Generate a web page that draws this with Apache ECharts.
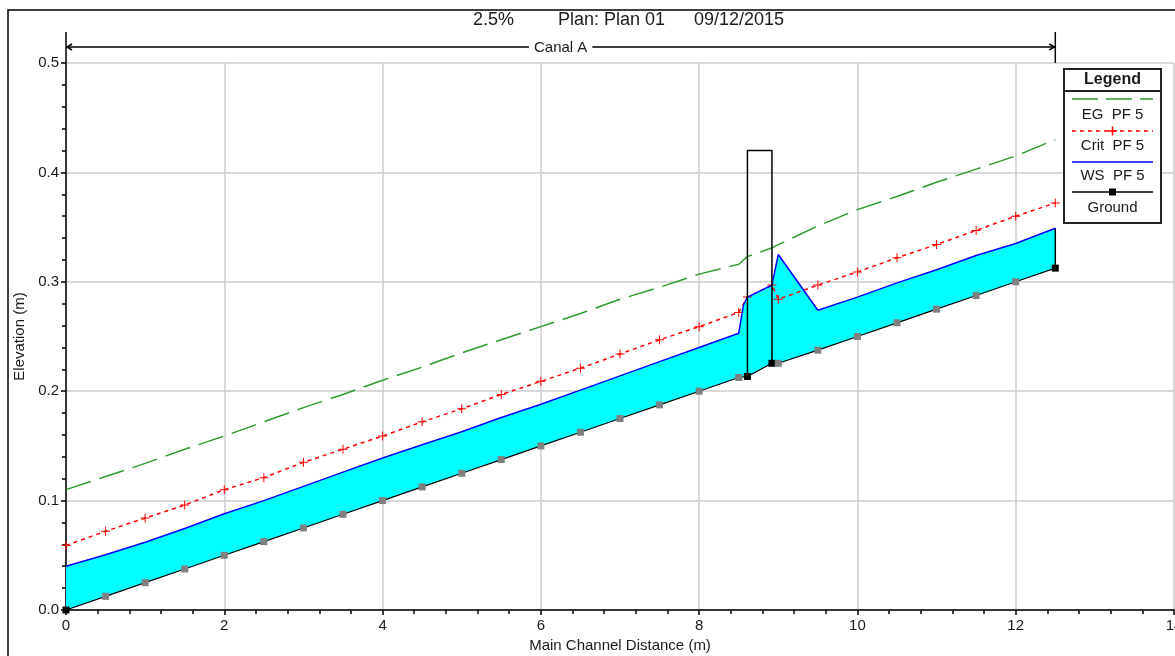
<!DOCTYPE html>
<html>
<head>
<meta charset="utf-8">
<title>Canal A profile</title>
<script src="https://cdn.jsdelivr.net/npm/echarts@6/dist/echarts.min.js"></script>
<style>
  html, body { margin: 0; padding: 0; background: #ffffff; }
  #chart { width: 1175px; height: 656px; }
</style>
</head>
<body>
<div id="chart"></div>
<script>
// ---- Profile data: main channel distance (m) and elevations (m) ----
const stations = [0, 0.5, 1, 1.5, 2, 2.5, 3, 3.5, 4, 4.5, 5, 5.5, 6, 6.5, 7, 7.5, 8, 8.5,
                  8.61, 8.92, 9, 9.5, 10, 10.5, 11, 11.5, 12, 12.5];
const groundElev = [0, 0.0125, 0.025, 0.0375, 0.05, 0.0625, 0.075, 0.0875, 0.1, 0.1125, 0.125,
                    0.1375, 0.15, 0.1625, 0.175, 0.1875, 0.2, 0.2125, 0.2135, 0.2255, 0.2255,
                    0.2375, 0.25, 0.2625, 0.275, 0.2875, 0.3, 0.3125];
const critElev = [0.059, 0.072, 0.084, 0.096, 0.110, 0.121, 0.135, 0.147, 0.159, 0.172, 0.184,
                  0.197, 0.209, 0.221, 0.234, 0.247, 0.259, 0.272, 0.286, 0.297, 0.284, 0.297,
                  0.309, 0.322, 0.334, 0.347, 0.360, 0.372];
const egElev = [0.110, 0.122, 0.134, 0.147, 0.159, 0.172, 0.185, 0.197, 0.210, 0.222, 0.235,
                0.247, 0.259, 0.271, 0.284, 0.295, 0.307, 0.316, 0.323, 0.331, 0.334, 0.351,
                0.366, 0.378, 0.391, 0.403, 0.415, 0.430];
const wsStations = [0, 0.5, 1, 1.5, 2, 2.5, 3, 3.5, 4, 4.5, 5, 5.5, 6, 6.5, 7, 7.5, 8, 8.5,
                    8.56, 8.61, 8.92, 9, 9.5, 10, 10.5, 11, 11.5, 12, 12.5];
const wsElev = [0.040, 0.0505, 0.062, 0.0745, 0.088, 0.100, 0.113, 0.126, 0.139, 0.151, 0.163,
                0.176, 0.188, 0.201, 0.214, 0.227, 0.240, 0.253, 0.279, 0.286, 0.297, 0.325,
                0.274, 0.286, 0.299, 0.311, 0.324, 0.335, 0.349];

// Bridge opening (faces and deck elevation)
const bridgeStations = [8.61, 8.92];
const bridgeDeckElev = 0.42;

// Text
const headerParts = ['2.5%', 'Plan: Plan 01', '09/12/2015'];
const reachName = 'Canal A';
const seriesNames = ['EG  PF 5', 'Crit  PF 5', 'WS  PF 5', 'Ground'];
const xAxisTitle = 'Main Channel Distance (m)';
const yAxisTitle = 'Elevation (m)';

// ---- Styling ----
const FONT = '"Liberation Sans", Arial, Helvetica, sans-serif';
const TXT = '#1a1a1a';
const C_EG = '#2e9a2e';
const C_CRIT = '#ff0000';
const C_WS = '#0000ff';
const C_FILL = '#00ffff';
const PLUS = 'path://M4,0H5V9H4ZM0,4H9V5H0Z';

const chart = echarts.init(document.getElementById('chart'), null, { renderer: 'canvas' });

const groundAt = x => groundElev[stations.indexOf(x)];
const keyStation = x => x === stations[0] || x === stations[stations.length - 1] ||
                        bridgeStations.indexOf(x) >= 0;

const axisCommon = {
  axisLine: { show: true, onZero: false, lineStyle: { color: '#000', width: 1.5 } },
  axisTick: { show: true, inside: false, length: 5, lineStyle: { color: '#000', width: 1.5 } },
  minorTick: { show: true, splitNumber: 5, length: 4, lineStyle: { color: '#000', width: 1.5 } },
  splitLine: { show: true, lineStyle: { color: '#cccccc', width: 1.5 } },
  minorSplitLine: { show: false },
  nameLocation: 'middle',
  nameTextStyle: { fontFamily: FONT, fontSize: 15, color: TXT }
};

chart.setOption({
  animation: false,
  backgroundColor: '#ffffff',
  grid: { left: 66, right: 1, top: 63, bottom: 46, containLabel: false, outerBoundsMode: 'none' },
  xAxis: Object.assign({}, axisCommon, {
    type: 'value', min: 0, max: 14, interval: 2,
    name: xAxisTitle, nameGap: 26,
    axisLabel: { fontFamily: FONT, fontSize: 15, color: TXT, margin: 8,
                 formatter: v => String(Math.round(v)) }
  }),
  yAxis: Object.assign({}, axisCommon, {
    type: 'value', min: 0, max: 0.5, interval: 0.1,
    name: yAxisTitle, nameGap: 38, nameRotate: 90,
    axisLabel: { fontFamily: FONT, fontSize: 15, color: TXT, margin: 7,
                 formatter: v => v.toFixed(1) }
  }),
  series: [
    {
      // water between ground and water surface
      type: 'custom', name: 'flow area', silent: true, z: 1,
      data: [[0, 0]],
      renderItem: function (params, api) {
        const top = wsStations.map((x, i) => api.coord([x, wsElev[i]]));
        const bottom = stations.map((x, i) => api.coord([x, groundElev[i]])).reverse();
        const lastTop = top[top.length - 1];
        const lastBottom = bottom[0];
        return {
          type: 'group',
          children: [
            { type: 'polygon', shape: { points: top.concat(bottom) },
              style: { fill: C_FILL, stroke: null } },
            { type: 'line', shape: { x1: lastTop[0], y1: lastTop[1], x2: lastBottom[0], y2: lastBottom[1] },
              style: { stroke: '#000', lineWidth: 1.5 } }
          ]
        };
      }
    },
    {
      name: seriesNames[0], type: 'line', z: 3,
      data: stations.map((x, i) => [x, egElev[i]]),
      showSymbol: false, symbol: 'none',
      lineStyle: { color: C_EG, width: 1.5, type: [26, 9] }
    },
    {
      name: seriesNames[1], type: 'line', z: 4,
      data: stations.map((x, i) => [x, critElev[i]]),
      symbol: PLUS, symbolSize: 9, showSymbol: true,
      itemStyle: { color: C_CRIT },
      lineStyle: { color: C_CRIT, width: 1.5, type: [4, 4] }
    },
    {
      name: seriesNames[2], type: 'line', z: 5,
      data: wsStations.map((x, i) => [x, wsElev[i]]),
      showSymbol: false, symbol: 'none',
      lineStyle: { color: C_WS, width: 1.5 }
    },
    {
      // bridge faces and deck
      name: 'bridge', type: 'line', z: 6, silent: true,
      data: [[bridgeStations[0], groundAt(bridgeStations[0])],
             [bridgeStations[0], bridgeDeckElev],
             [bridgeStations[1], bridgeDeckElev],
             [bridgeStations[1], groundAt(bridgeStations[1])]],
      showSymbol: false, symbol: 'none',
      lineStyle: { color: '#000', width: 1.5 }
    },
    {
      name: seriesNames[3], type: 'line', z: 7,
      data: stations.map((x, i) => ({
        value: [x, groundElev[i]],
        itemStyle: { color: keyStation(x) ? '#000000' : '#808080' }
      })),
      symbol: 'rect', symbolSize: 7, showSymbol: true,
      lineStyle: { color: '#000', width: 1.2 }
    }
  ]
});

// ---- Overlay: frame, header, reach marker, legend ----
const yTop = chart.convertToPixel({ gridIndex: 0 }, [0, 0.5]);
const reachEnd = chart.convertToPixel({ gridIndex: 0 }, [stations[stations.length - 1], 0.5]);
const arrowY = yTop[1] - 16;
const reachMid = (yTop[0] + reachEnd[0]) / 2;

const lg = { x: 1064, y: 69, w: 97, h: 154 };
const lgCx = lg.x + lg.w / 2;
const lgX1 = lg.x + 8, lgX2 = lg.x + lg.w - 8;
const rows = [
  { lineY: 99,  textY: 115, stroke: C_EG, dash: [26, 8], marker: null },
  { lineY: 131, textY: 146, stroke: C_CRIT, dash: [4, 4], marker: 'plus' },
  { lineY: 162, textY: 176, stroke: C_WS, dash: null, marker: null },
  { lineY: 192, textY: 208, stroke: '#000', dash: null, marker: 'rect' }
];

const legendChildren = [
  { type: 'rect', shape: { x: lg.x, y: lg.y, width: lg.w, height: lg.h },
    style: { fill: '#ffffff', stroke: '#222', lineWidth: 2 } },
  { type: 'text', x: lgCx, y: lg.y + 11,
    style: { text: 'Legend', font: 'bold 16px ' + FONT, fill: TXT, align: 'center', verticalAlign: 'middle' } },
  { type: 'line', shape: { x1: lg.x, y1: lg.y + 22, x2: lg.x + lg.w, y2: lg.y + 22 },
    style: { stroke: '#222', lineWidth: 2 } }
];
rows.forEach((r, i) => {
  legendChildren.push({ type: 'line', shape: { x1: lgX1, y1: r.lineY, x2: lgX2, y2: r.lineY },
    style: { stroke: r.stroke, lineWidth: 1.5, lineDash: r.dash } });
  if (r.marker === 'plus') {
    legendChildren.push({ type: 'rect', shape: { x: lgCx - 0.75, y: r.lineY - 4.5, width: 1.5, height: 9 }, style: { fill: C_CRIT } });
    legendChildren.push({ type: 'rect', shape: { x: lgCx - 4.5, y: r.lineY - 0.75, width: 9, height: 1.5 }, style: { fill: C_CRIT } });
  } else if (r.marker === 'rect') {
    legendChildren.push({ type: 'rect', shape: { x: lgCx - 3.5, y: r.lineY - 3.5, width: 7, height: 7 }, style: { fill: '#000' } });
  }
  legendChildren.push({ type: 'text', x: lgCx, y: r.textY,
    style: { text: seriesNames[i], font: '15px ' + FONT, fill: TXT, align: 'center', verticalAlign: 'middle' } });
});

const headerX = [473, 558, 694];

chart.setOption({
  graphic: [
    // outer frame
    { type: 'polyline', silent: true, shape: { points: [[8, 656], [8, 10], [1175, 10]] },
      style: { stroke: '#000', lineWidth: 1.5, fill: null } },
    // header
    ...headerParts.map((t, i) => ({
      type: 'text', silent: true, x: headerX[i], y: 20,
      style: { text: t, font: '18px ' + FONT, fill: TXT, align: 'left', verticalAlign: 'middle' }
    })),
    // elevation axis extension above the plot
    { type: 'line', silent: true, shape: { x1: yTop[0], y1: yTop[1], x2: yTop[0], y2: yTop[1] - 31 },
      style: { stroke: '#000', lineWidth: 1.5 } },
    // reach extent marker
    { type: 'line', silent: true, shape: { x1: yTop[0], y1: arrowY, x2: reachEnd[0], y2: arrowY },
      style: { stroke: '#000', lineWidth: 1.5 } },
    { type: 'polyline', silent: true,
      shape: { points: [[yTop[0] + 6, arrowY - 3], [yTop[0] + 1, arrowY], [yTop[0] + 6, arrowY + 3]] },
      style: { stroke: '#000', lineWidth: 1.5, fill: null } },
    { type: 'polyline', silent: true,
      shape: { points: [[reachEnd[0] - 6, arrowY - 3], [reachEnd[0] - 1, arrowY], [reachEnd[0] - 6, arrowY + 3]] },
      style: { stroke: '#000', lineWidth: 1.5, fill: null } },
    { type: 'line', silent: true, shape: { x1: reachEnd[0], y1: yTop[1] - 31, x2: reachEnd[0], y2: yTop[1] },
      style: { stroke: '#000', lineWidth: 1.5 } },
    { type: 'text', silent: true, x: reachMid, y: arrowY + 1,
      style: { text: reachName, font: '15px ' + FONT, fill: TXT, align: 'center', verticalAlign: 'middle',
               backgroundColor: '#ffffff', padding: [0, 5] } },
    // legend
    { type: 'group', silent: true, children: legendChildren }
  ]
});
</script>
</body>
</html>
